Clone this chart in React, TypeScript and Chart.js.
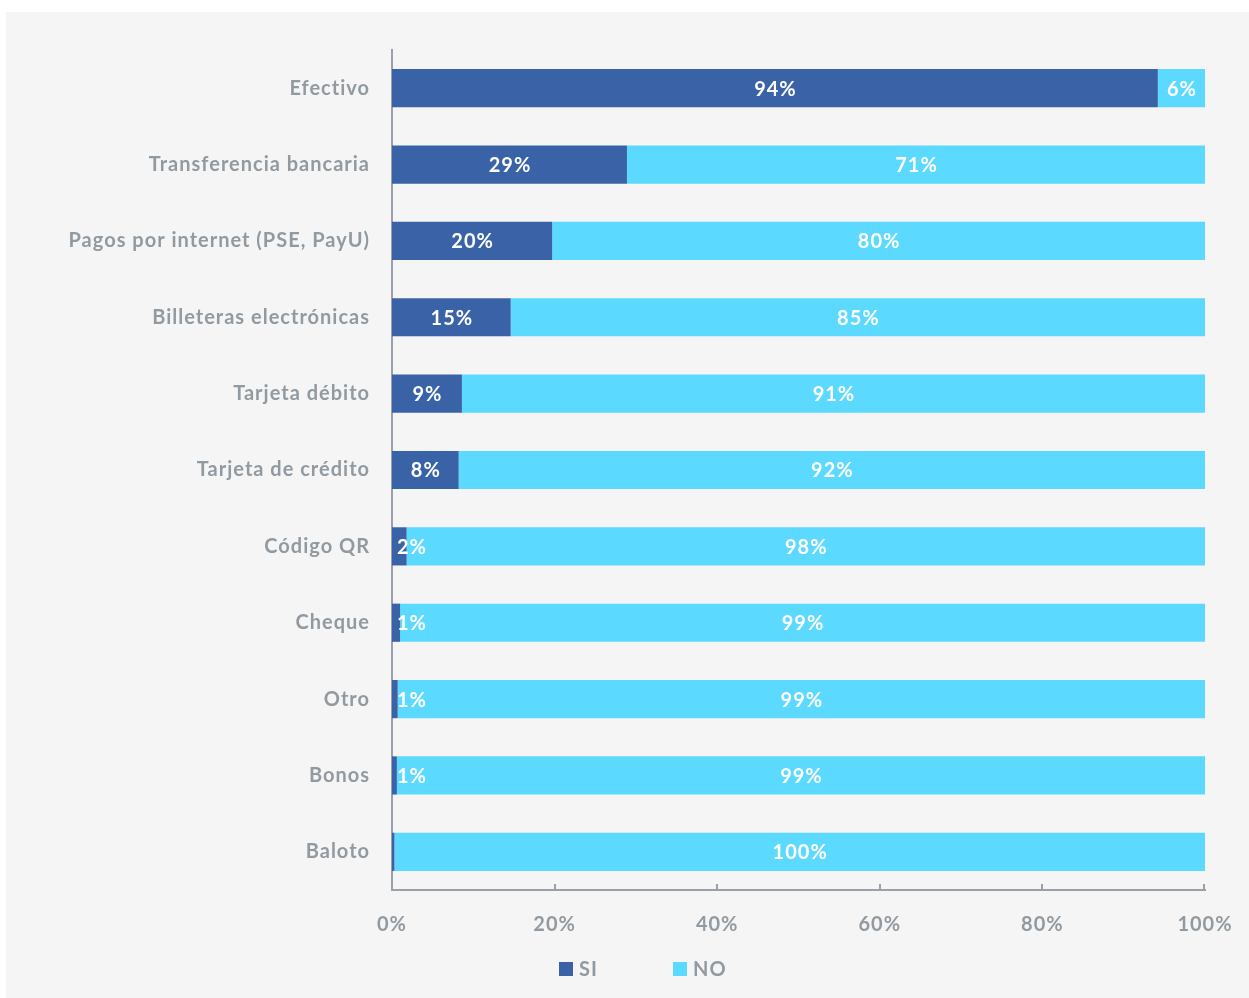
import React, { useEffect, useRef } from "react";
import { Chart, registerables } from "chart.js";

Chart.register(...registerables);

const categories = [
  "Efectivo",
  "Transferencia bancaria",
  "Pagos por internet (PSE, PayU)",
  "Billeteras electrónicas",
  "Tarjeta débito",
  "Tarjeta de crédito",
  "Código QR",
  "Cheque",
  "Otro",
  "Bonos",
  "Baloto",
];
const siValues = [94.2, 28.9, 19.7, 14.6, 8.6, 8.2, 1.8, 1.0, 0.7, 0.6, 0.3];
const noValues = [5.8, 71.1, 80.3, 85.4, 91.4, 91.8, 98.2, 99.0, 99.3, 99.4, 99.7];
const seriesNames = ["SI", "NO"];
const xTickValues = [0, 20, 40, 60, 80, 100];

const SI_COLOR = "#3a62a7";
const NO_COLOR = "#5bd9ff";
const GRAY = "#929aa1";
const AXIS = "#9aa1a8";
const FONT = "Lato, 'Open Sans', sans-serif";

const spacingPlugin = {
  id: "spacing",
  beforeUpdate(chart: any) {
    chart.ctx.letterSpacing = "1px";
  },
  beforeLayout(chart: any) {
    chart.ctx.letterSpacing = "1px";
  },
  beforeDraw(chart: any) {
    chart.ctx.letterSpacing = "1px";
  },
};

const decorPlugin = {
  id: "decor",
  afterDatasetsDraw(chart: any) {
    const ctx = chart.ctx;
    ctx.save();
    ctx.letterSpacing = "1px";
    ctx.font = `bold 20px ${FONT}`;
    ctx.fillStyle = "#ffffff";
    ctx.textBaseline = "middle";
    chart.data.datasets.forEach((ds: any, di: number) => {
      const meta = chart.getDatasetMeta(di);
      meta.data.forEach((bar: any, i: number) => {
        const v = ds.data[i];
        const txt = Math.round(v) + "%";
        if (Math.round(v) === 0) return;
        const start = Math.min(bar.base, bar.x);
        const end = Math.max(bar.base, bar.x);
        const w = end - start;
        const tw = ctx.measureText(txt).width;
        ctx.textAlign = "left";
        if (tw + 6 > w) {
          ctx.fillText(txt, start + 5, bar.y + 1);
        } else {
          ctx.fillText(txt, (start + end) / 2 - (tw - 1) / 2, bar.y + 1);
        }
      });
    });
    ctx.restore();
  },
  afterDraw(chart: any) {
    const ctx = chart.ctx;
    const xs = chart.scales.x;
    const area = chart.chartArea;
    ctx.save();
    ctx.letterSpacing = "1px";
    ctx.strokeStyle = AXIS;
    ctx.lineWidth = 2;
    xTickValues.forEach((t) => {
      if (t === 0) return;
      const px = Math.round(xs.getPixelForValue(t)) - (t === 100 ? 1 : 0);
      ctx.beginPath();
      ctx.moveTo(px, area.bottom + 1);
      ctx.lineTo(px, area.bottom - 6);
      ctx.stroke();
    });
    ctx.font = `bold 20px ${FONT}`;
    ctx.textBaseline = "middle";
    ctx.textAlign = "left";
    const ly = 957;
    const items = [
      { name: seriesNames[0], color: SI_COLOR, x: 553 },
      { name: seriesNames[1], color: NO_COLOR, x: 667 },
    ];
    items.forEach((it) => {
      ctx.fillStyle = it.color;
      ctx.fillRect(it.x, ly - 7, 14, 14);
      ctx.fillStyle = GRAY;
      ctx.fillText(it.name, it.x + 20, ly + 1);
    });
    ctx.restore();
  },
};

export default function App() {
  const ref = useRef<HTMLCanvasElement | null>(null);
  useEffect(() => {
    document.body.style.margin = "0";
    const chart = new Chart(ref.current as HTMLCanvasElement, {
      type: "bar",
      data: {
        labels: categories,
        datasets: [
          {
            label: seriesNames[0],
            data: siValues,
            backgroundColor: SI_COLOR,
            barPercentage: 1,
            categoryPercentage: 0.5,
          },
          {
            label: seriesNames[1],
            data: noValues,
            backgroundColor: NO_COLOR,
            barPercentage: 1,
            categoryPercentage: 0.5,
          },
        ],
      },
      options: {
        indexAxis: "y",
        animation: false,
        responsive: false,
        maintainAspectRatio: false,
        layout: { padding: { left: 0, right: 44, top: 38, bottom: 0 } },
        plugins: { legend: { display: false }, tooltip: { enabled: false } },
        scales: {
          x: {
            stacked: true,
            min: 0,
            max: 100,
            grid: { display: false, drawTicks: false },
            border: { display: true, color: AXIS, width: 2 },
            ticks: {
              stepSize: 20,
              padding: 23,
              color: GRAY,
              font: { family: FONT, size: 20, weight: "bold" },
              callback: (v: any) => v + "%",
            },
            afterFit: (s: any) => {
              s.height = 108;
              s.paddingLeft = 0;
              s.paddingRight = 0;
            },
          },
          y: {
            stacked: true,
            grid: { display: false, drawTicks: false },
            border: { display: true, color: AXIS, width: 2 },
            ticks: {
              padding: 22,
              color: GRAY,
              font: { family: FONT, size: 20, weight: "bold" },
            },
            afterFit: (s: any) => {
              s.width = 386;
              s.paddingTop = 0;
              s.paddingBottom = 0;
            },
          },
        },
      },
      plugins: [spacingPlugin, decorPlugin],
    } as any);
    return () => chart.destroy();
  }, []);
  return (
    <div style={{ position: "relative", width: 1249, height: 998, background: "#ffffff" }}>
      <div
        style={{
          position: "absolute",
          left: 6,
          top: 12,
          width: 1243,
          height: 986,
          background: "#f5f5f5",
        }}
      >
        <canvas ref={ref} width={1243} height={986} style={{ display: "block" }} />
      </div>
    </div>
  );
}
